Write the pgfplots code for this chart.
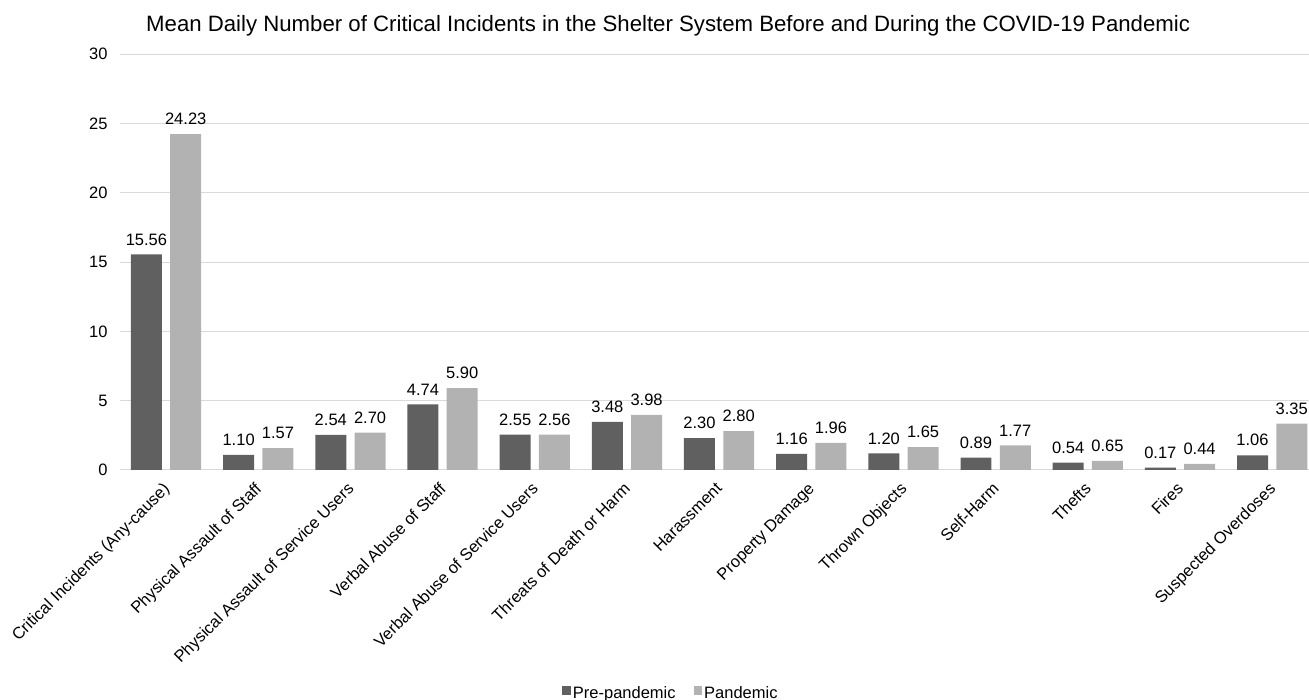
\documentclass[border=0pt]{standalone}
\usepackage{pgfplots}
\pgfplotsset{compat=1.18}
\usepackage{fontspec}
\setmainfont{Liberation Sans}
\definecolor{darkbar}{HTML}{606060}
\definecolor{lightbar}{HTML}{B2B2B2}
\definecolor{gridc}{HTML}{D9D9D9}
\begin{document}
\begin{tikzpicture}
\begin{axis}[
  at={(120pt,230pt)}, anchor=south west,
  scale only axis,
  width=1189pt, height=415.7pt,
  ybar, bar width=0.336, 
  xmin=-0.5, xmax=12.40,
  ymin=0, ymax=30,
  ytick={0,5,...,30},
  xtick={0,...,12},
  xticklabels={Critical Incidents (Any-cause),Physical Assault of Staff,Physical Assault of Service Users,Verbal Abuse of Staff,Verbal Abuse of Service Users,Threats of Death or Harm,Harassment,Property Damage,Thrown Objects,Self-Harm,Thefts,Fires,Suspected Overdoses},
  major tick length=0pt,
  axis line style={draw=none},
  ymajorgrids, major grid style={draw=gridc, line width=1pt},
  /pgf/number format/assume math mode=true,
  tick label style={font=\fontsize{16.5}{19}\selectfont},
  yticklabel style={xshift=-9pt},
  xticklabel style={rotate=45, anchor=north east, inner sep=1pt, xshift=-10pt, yshift=-4pt},
  nodes near coords,
  every node near coord/.append style={font=\fontsize{16.5}{19}\selectfont, /pgf/number format/fixed, /pgf/number format/fixed zerofill, /pgf/number format/precision=2, /pgf/number format/assume math mode=true, inner sep=0pt, yshift=9pt, anchor=south},
  title={Mean Daily Number of Critical Incidents in the Shelter System Before and During the COVID-19 Pandemic},
  title style={font=\fontsize{22.2}{26}\selectfont, at={(axis description cs:0.461,1.040)}, anchor=base, inner sep=0pt},
  legend style={draw=none, font=\fontsize{16.5}{19}\selectfont, at={(axis description cs:0.4634,-0.538)}, anchor=center, legend columns=2, /tikz/every even column/.append style={column sep=16pt}, inner sep=0pt, nodes={inner sep=2pt}},
  legend image code/.code={\fill[#1] (2pt,-1pt) rectangle (10.5pt,7.5pt);},
]
\addplot[fill=darkbar, draw=none, bar shift=-0.213] coordinates {(0,15.56) (1,1.10) (2,2.54) (3,4.74) (4,2.55) (5,3.48) (6,2.30) (7,1.16) (8,1.20) (9,0.89) (10,0.54) (11,0.17) (12,1.06)};
\addplot[fill=lightbar, draw=none, bar shift=0.213] coordinates {(0,24.23) (1,1.57) (2,2.70) (3,5.90) (4,2.56) (5,3.98) (6,2.80) (7,1.96) (8,1.65) (9,1.77) (10,0.65) (11,0.44) (12,3.35)};
\legend{Pre-pandemic,Pandemic}
\end{axis}
\pgfresetboundingbox
\path (0,0) rectangle (1309pt,700pt);
\end{tikzpicture}
\end{document}
